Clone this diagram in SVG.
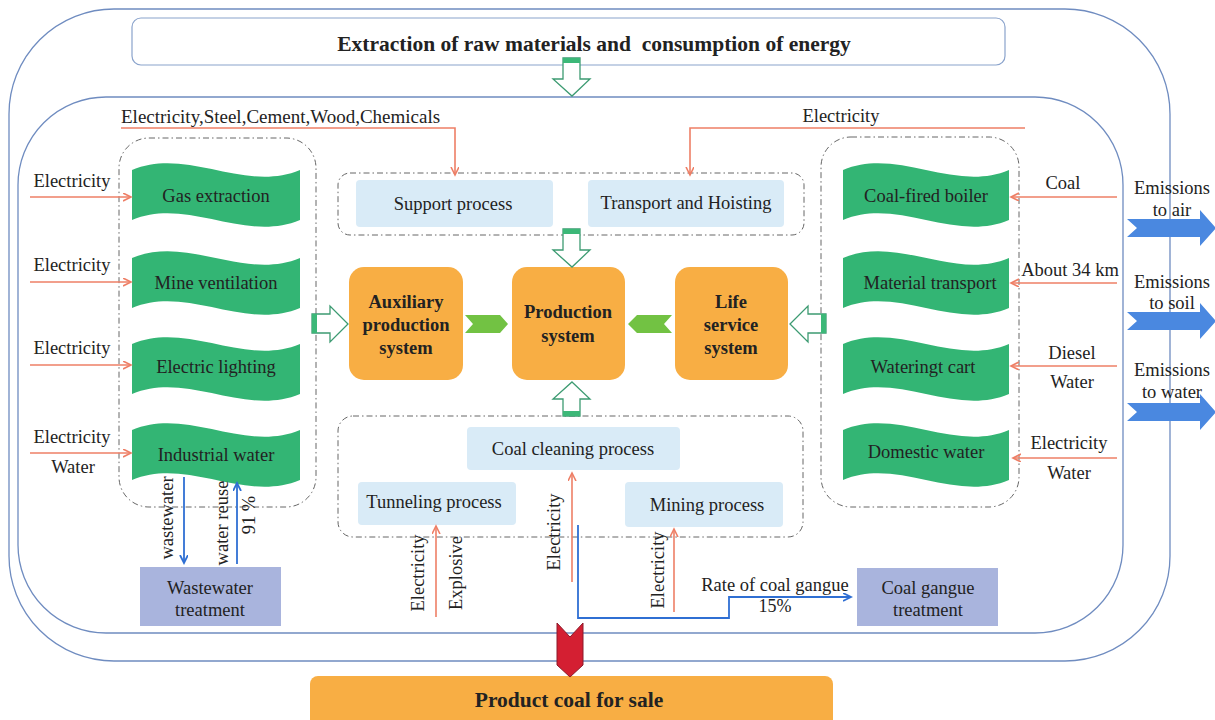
<svg xmlns="http://www.w3.org/2000/svg" width="1215" height="720" viewBox="0 0 1215 720">
<defs>
<style>
text{font-family:"Liberation Serif","Times New Roman",serif;fill:#222;}
.t16{font-size:18.5px;}
.t15{font-size:19px;}
.b{font-weight:bold;}
.c{text-anchor:middle;dominant-baseline:central;}
.frame{fill:none;stroke:#6f8cc0;stroke-width:1.3;}
.grp{fill:none;stroke:#666;stroke-width:1;stroke-dasharray:6 3 1.5 3;}
.wave{fill:#33b574;}
.lb{fill:#d9ebf7;}
.org{fill:#f8ae44;}
.trt{fill:#a9b4dd;}
.red{fill:none;stroke:#ee7f66;stroke-width:1.6;marker-end:url(#ar);}
.blu{fill:none;stroke:#2f6fd3;stroke-width:1.8;marker-end:url(#ab);}
.hol{fill:#fff;stroke:#3d9b72;stroke-width:1.3;}
.str{fill:#3cb878;}
.chev{fill:#72c243;}
.emi{fill:#4a88e0;}
</style>
<marker id="ar" markerWidth="10" markerHeight="10" refX="8" refY="4" orient="auto" markerUnits="userSpaceOnUse">
<path d="M0,0 L8,4 L0,8" fill="none" stroke="#ee7f66" stroke-width="1.6"/>
</marker>
<marker id="ab" markerWidth="10" markerHeight="10" refX="8" refY="4" orient="auto" markerUnits="userSpaceOnUse">
<path d="M0,0 L8,4 L0,8" fill="none" stroke="#2f6fd3" stroke-width="1.8"/>
</marker>
</defs>
<rect width="1215" height="720" fill="#fff"/>

<g id="frames">
<rect class="frame" x="9" y="9" width="1161" height="652" rx="105"/>
<rect class="frame" x="18" y="97" width="1105" height="536" rx="88"/>
</g>

<g id="top-box">
<rect x="132" y="18" width="873" height="47" rx="9" fill="#fff" stroke="#8aa3cc" stroke-width="1.2"/>
<text x="594" y="44" class="c b" style="font-size:21.5px;white-space:pre">Extraction of raw materials and  consumption of energy</text>
</g>

<g id="groups">
<rect id="left-group" class="grp" x="119" y="138" width="197" height="369" rx="30"/>
<rect id="right-group" class="grp" x="821" y="137" width="198" height="370" rx="30"/>
<rect id="support-group" class="grp" x="338" y="173" width="466" height="62" rx="12"/>
<rect id="process-group" class="grp" x="338" y="416" width="465" height="121" rx="15"/>
</g>

<g id="gas-extraction"><path class="wave" d="M132,170 C188,146.7 244,193.3 300,170 L300,220 C244,243.3 188,196.7 132,220 Z"/><text class="t16 c" x="216" y="196">Gas extraction</text></g>
<g id="mine-ventilation"><path class="wave" d="M132,258 C188,234.7 244,281.3 300,258 L300,308 C244,331.3 188,284.7 132,308 Z"/><text class="t16 c" x="216" y="283">Mine ventilation</text></g>
<g id="electric-lighting"><path class="wave" d="M132,344 C188,320.7 244,367.3 300,344 L300,394 C244,417.3 188,370.7 132,394 Z"/><text class="t16 c" x="216" y="367">Electric lighting</text></g>
<g id="industrial-water"><path class="wave" d="M132,430 C188,406.7 244,453.3 300,430 L300,480 C244,503.3 188,456.7 132,480 Z"/><text class="t16 c" x="216" y="455">Industrial water</text></g>

<g id="coal-fired-boiler"><path class="wave" d="M843,170 C898.3,146.7 953.7,193.3 1009,170 L1009,220 C953.7,243.3 898.3,196.7 843,220 Z"/><text class="t16 c" x="926" y="196">Coal-fired boiler</text></g>
<g id="material-transport"><path class="wave" d="M843,258 C898.3,234.7 953.7,281.3 1009,258 L1009,308 C953.7,331.3 898.3,284.7 843,308 Z"/><text class="t16 c" x="930" y="283">Material transport</text></g>
<g id="watering-cart"><path class="wave" d="M843,344 C898.3,320.7 953.7,367.3 1009,344 L1009,394 C953.7,417.3 898.3,370.7 843,394 Z"/><text class="t16 c" x="923" y="367">Wateringt cart</text></g>
<g id="domestic-water"><path class="wave" d="M843,430 C898.3,406.7 953.7,453.3 1009,430 L1009,480 C953.7,503.3 898.3,456.7 843,480 Z"/><text class="t16 c" x="926" y="452">Domestic water</text></g>

<g id="support-process"><rect class="lb" x="356" y="180" width="197" height="47" rx="4"/><text class="t16 c" x="453" y="204">Support process</text></g>
<g id="transport-hoisting"><rect class="lb" x="588" y="180" width="196" height="47" rx="4"/><text class="t16 c" x="686" y="203">Transport and Hoisting</text></g>
<g id="coal-cleaning"><rect class="lb" x="467" y="427" width="213" height="43" rx="4"/><text class="t16 c" x="573" y="449">Coal cleaning process</text></g>
<g id="tunneling"><rect class="lb" x="358" y="482" width="158" height="43" rx="4"/><text class="t16 c" x="434" y="502">Tunneling process</text></g>
<g id="mining"><rect class="lb" x="625" y="482" width="158" height="45" rx="4"/><text class="t16 c" x="707" y="505">Mining process</text></g>

<g id="auxiliary"><rect class="org" x="349" y="267" width="114" height="113" rx="15"/>
<text class="t16 b c" x="406" y="302">Auxiliary</text><text class="t16 b c" x="406" y="325">production</text><text class="t16 b c" x="406" y="348">system</text></g>
<g id="production"><rect class="org" x="512" y="267" width="113" height="113" rx="15"/>
<text class="t16 b c" x="568" y="312">Production</text><text class="t16 b c" x="568" y="336">system</text></g>
<g id="life-service"><rect class="org" x="675" y="267" width="113" height="113" rx="15"/>
<text class="t16 b c" x="731" y="302">Life</text><text class="t16 b c" x="731" y="325">service</text><text class="t16 b c" x="731" y="348">system</text></g>

<g id="wastewater-treatment"><rect class="trt" x="140" y="567" width="141" height="59"/>
<text class="t16 c" x="210" y="588">Wastewater</text><text class="t16 c" x="210" y="610">treatment</text></g>
<g id="coal-gangue-treatment"><rect class="trt" x="857" y="568" width="141" height="58"/>
<text class="t16 c" x="928" y="588">Coal gangue</text><text class="t16 c" x="928" y="610">treatment</text></g>

<g id="product-coal"><rect class="org" x="310" y="676" width="523" height="60" rx="8"/>
<text class="b c" style="font-size:21.5px" x="569" y="700">Product coal for sale</text></g>

<g id="connectors">
<path class="hol" d="M563,58 L580,58 L580,79 L590,79 L572,96 L553,79 L563,79 Z"/><rect class="str" x="563" y="58" width="17" height="5"/>
<path class="hol" d="M563,229 L580,229 L580,250 L590,250 L572,267 L553,250 L563,250 Z"/><rect class="str" x="563" y="229" width="17" height="5"/>
<path class="hol" d="M572,382 L590,399 L580,399 L580,416 L563,416 L563,399 L553,399 Z"/><rect class="str" x="563" y="411" width="17" height="5"/>
<path class="hol" d="M312,314 L330,314 L330,306 L348,324 L330,342 L330,333 L312,333 Z"/><rect class="str" x="312" y="314" width="5" height="19"/>
<path class="hol" d="M826,314 L808,314 L808,306 L790,324 L808,342 L808,333 L826,333 Z"/><rect class="str" x="821" y="314" width="5" height="19"/>
<polygon class="chev" points="465,315 500,315 508,324 500,333 465,333 473,324"/>
<polygon class="chev" points="672,315 637,315 628,324 637,333 672,333 664,324"/>
<path class="red" d="M30,197 H131"/><path class="red" d="M30,282 H131"/><path class="red" d="M30,365 H131"/><path class="red" d="M30,453 H131"/>
<path class="red" d="M1117,197 H1011"/><path class="red" d="M1117,283 H1011"/><path class="red" d="M1117,366 H1011"/><path class="red" d="M1117,458 H1013"/>
<path class="red" d="M121,128 H455 V175"/>
<path class="red" d="M1025,128 H690 V175"/>
<path class="red" d="M436,617 V526"/>
<path class="red" d="M572,582 V473"/>
<path class="red" d="M674,612 V529"/>
<path class="blu" d="M184,477 V563"/>
<path class="blu" d="M237,564 V483"/>
<path class="blu" d="M578,525 V618 H729 V597 H851"/>
<polygon class="emi" points="1127,219 1200,219 1200,210 1216,228 1200,246 1200,237 1127,237 1137,228"/>
<polygon class="emi" points="1127,312 1200,312 1200,303 1216,321 1200,339 1200,330 1127,330 1137,321"/>
<polygon class="emi" points="1127,403 1200,403 1200,394 1216,412 1200,430 1200,421 1127,421 1137,412"/>
<polygon points="557,623 570,637 583,623 583,665 570,677 557,665" fill="#d41f32" stroke="#8c1a2a" stroke-width="1"/>
</g>

<g id="labels">
<text class="t15" x="121" y="123">Electricity,Steel,Cement,Wood,Chemicals</text>
<text class="t16 c" x="841" y="116">Electricity</text>
<text class="t16 c" x="72" y="181">Electricity</text>
<text class="t16 c" x="72" y="265">Electricity</text>
<text class="t16 c" x="72" y="348">Electricity</text>
<text class="t16 c" x="72" y="437">Electricity</text>
<text class="t16 c" x="73" y="467">Water</text>
<text class="t16 c" x="1063" y="183">Coal</text>
<text class="t16 c" x="1070" y="270">About 34 km</text>
<text class="t16 c" x="1072" y="353">Diesel</text>
<text class="t16 c" x="1072" y="382">Water</text>
<text class="t16 c" x="1069" y="443">Electricity</text>
<text class="t16 c" x="1069" y="473">Water</text>
<text class="t16 c" x="1172" y="188">Emissions</text>
<text class="t16 c" x="1172" y="210">to air</text>
<text class="t16 c" x="1172" y="282">Emissions</text>
<text class="t16 c" x="1172" y="303">to soil</text>
<text class="t16 c" x="1172" y="370">Emissions</text>
<text class="t16 c" x="1172" y="392">to water</text>
<text class="t16 c" transform="translate(167,518) rotate(-90)">wastewater</text>
<text class="t16 c" transform="translate(222,523) rotate(-90)">water reuse</text>
<text class="t16 c" transform="translate(249,515) rotate(-90)">91 %</text>
<text class="t16 c" transform="translate(418,573) rotate(-90)">Electricity</text>
<text class="t16 c" transform="translate(456,573) rotate(-90)">Explosive</text>
<text class="t16 c" transform="translate(554,532) rotate(-90)">Electricity</text>
<text class="t16 c" transform="translate(658,570) rotate(-90)">Electricity</text>
<text class="t16 c" x="775" y="585">Rate of coal gangue</text>
<text class="c" style="font-size:18px" x="775" y="606">15%</text>
</g>
</svg>
